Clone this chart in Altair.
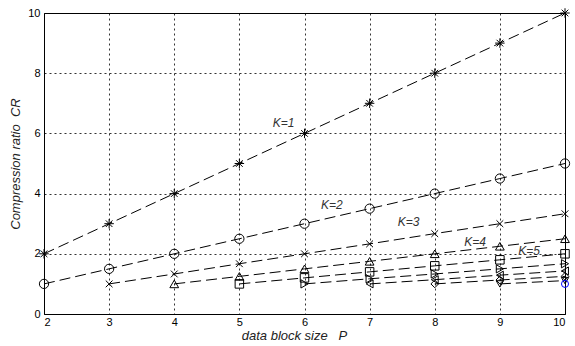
import altair as alt
import pandas as pd

P_all = [2, 3, 4, 5, 6, 7, 8, 9, 10]
k1 = [2, 3, 4, 5, 6, 7, 8, 9, 10]
k2 = [1, 1.5, 2, 2.5, 3, 3.5, 4, 4.5, 5]
k3 = [1, 1.33, 1.67, 2, 2.33, 2.67, 3, 3.33]
k4 = [1, 1.25, 1.5, 1.75, 2, 2.25, 2.5]
k5 = [1, 1.2, 1.4, 1.6, 1.8, 2]
k6 = [1, 1.17, 1.33, 1.5, 1.67]
k7 = [1, 1.14, 1.29, 1.43]
k8 = [1, 1.13, 1.25]
k9 = [1, 1.11]
k10 = [1]
series = [k1, k2, k3, k4, k5, k6, k7, k8, k9, k10]
names = ["K=1", "K=2", "K=3", "K=4", "K=5", "K=6", "K=7", "K=8", "K=9", "K=10"]

labels = ["K=1", "K=2", "K=3", "K=4", "K=5"]
label_x = [5.68, 6.42, 7.6, 8.62, 9.45]
label_y = [6.35, 3.62, 3.06, 2.39, 2.09]

rows = []
for name, vals in zip(names, series):
    start = len(P_all) - len(vals)
    for p, v in zip(P_all[start:], vals):
        rows.append({"K": name, "P": p, "CR": v})
df = pd.DataFrame(rows)
lab_df = pd.DataFrame({"text": labels, "x": label_x, "y": label_y})

star = "M-1,0L1,0M0,-1L0,1M-0.7,-0.7L0.7,0.7M-0.7,0.7L0.7,-0.7"
xmark = "M-0.75,-0.75L0.75,0.75M-0.75,0.75L0.75,-0.75"
shape_range = [star, "circle", xmark, "triangle-up", "square", "triangle-right",
               "triangle-left", "diamond", "triangle-down", "circle"]
color_range = ["black"] * 9 + ["#0000ff"]
size_range = [90, 50, 60, 50, 45, 40, 40, 40, 40, 8]

NB = "\u00a0"
xs = alt.X("P:Q", scale=alt.Scale(domain=[2, 10], nice=False),
           axis=alt.Axis(values=P_all, title="data block size" + NB * 3 + "P", format="d",
                         grid=True, gridDash=[2, 3], gridColor="black", gridOpacity=0.8,
                         labelPadding=2, titleFontStyle="italic",
                         titleX=250, titleY=25, titleBaseline="alphabetic",
                         titleAnchor="middle"))
ys = alt.Y("CR:Q", scale=alt.Scale(domain=[0, 10], nice=False),
           axis=alt.Axis(values=[0, 2, 4, 6, 8, 10], title="Compression ratio" + NB * 2 + "CR",
                         grid=True, gridDash=[2, 3], gridColor="black", gridOpacity=0.8,
                         labelPadding=4, titlePadding=5, titleFontStyle="italic"))

base = alt.Chart(df)
lines = base.transform_filter(alt.datum.K != "K=10").mark_line(
    color="black", strokeWidth=1, strokeDash=[11, 5]
).encode(x=xs, y=ys, detail="K:N")
points = base.mark_point(filled=False, strokeWidth=1, opacity=1).encode(
    x="P:Q", y="CR:Q",
    shape=alt.Shape("K:N", scale=alt.Scale(domain=names, range=shape_range), legend=None),
    color=alt.Color("K:N", scale=alt.Scale(domain=names, range=color_range), legend=None),
    size=alt.Size("K:N", scale=alt.Scale(domain=names, range=size_range), legend=None),
)
texts = alt.Chart(lab_df).mark_text(
    font="Liberation Sans", fontSize=12, fontStyle="italic", color="#333333"
).encode(x="x:Q", y="y:Q", text="text:N")

chart = alt.layer(lines, points, texts).properties(
    width=521, height=301,
    autosize=alt.AutoSizeParams(type="none"),
    padding={"left": 44, "top": 13, "right": 10, "bottom": 32},
    background="white",
).configure_view(stroke="black", strokeWidth=1).configure_axis(
    labelFont="Liberation Sans", titleFont="Liberation Sans",
    labelFontSize=11, titleFontSize=13, labelColor="black", titleColor="#222222",
    titleFontWeight="normal", domain=False, ticks=False,
)

chart.save("out.html", embed_options={"renderer": "svg", "actions": False})
